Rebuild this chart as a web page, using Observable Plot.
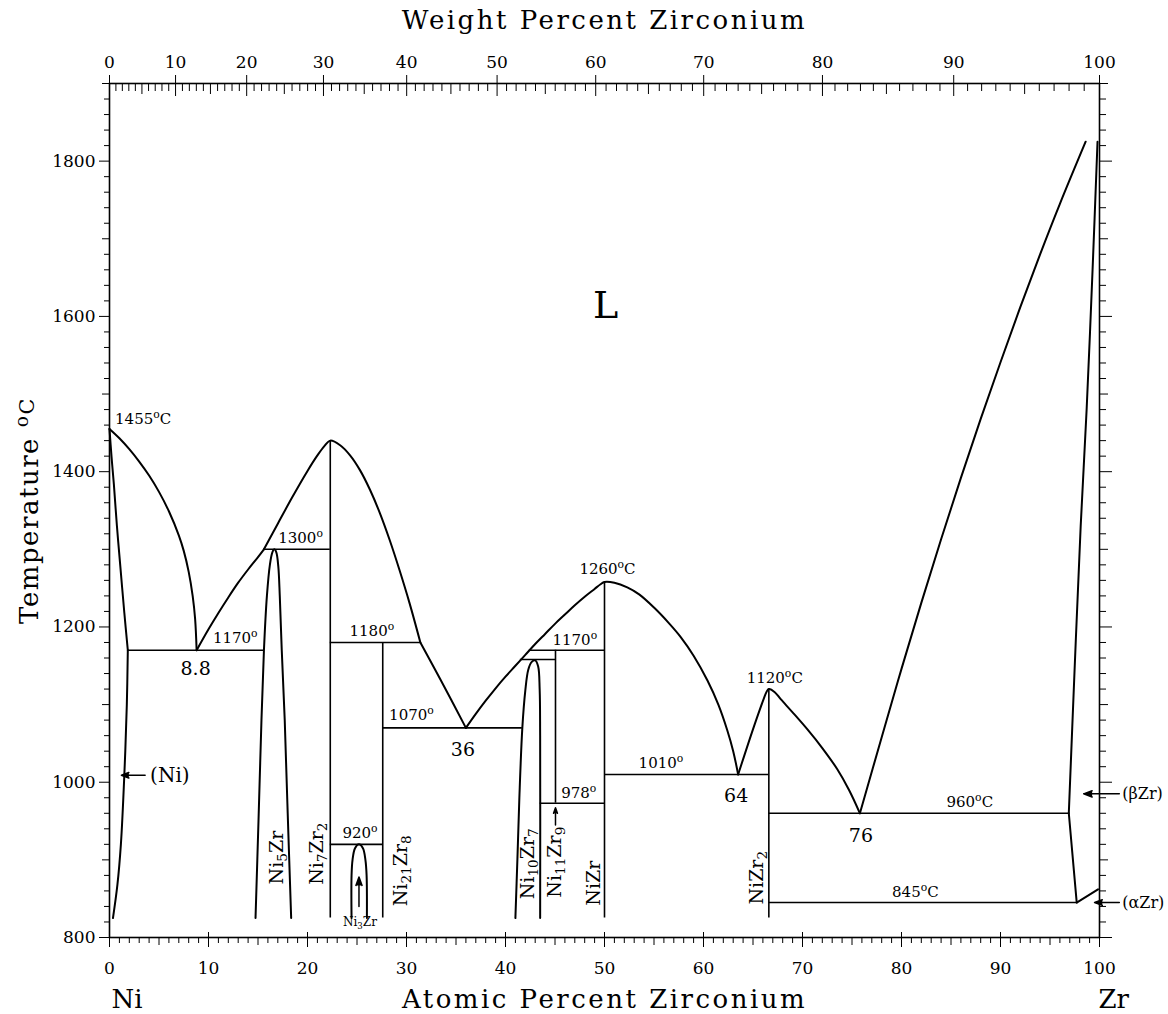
<!DOCTYPE html>
<html><head><meta charset="utf-8">
<script src="https://cdn.jsdelivr.net/npm/d3@7"></script>
<script src="https://cdn.jsdelivr.net/npm/@observablehq/plot@0.6"></script>
<style>
html,body{margin:0;padding:0;background:#fff;}
#chart{width:1168px;height:1014px;overflow:hidden;}
</style></head><body><div id="chart"></div>
<script>
// ---- Phase boundary curves: [atomic % Zr, temperature °C] ----
const niLiquidus    = [[0,1455],[1,1443],[2,1429],[3,1413],[4,1395],[5,1374],[6,1349],[7,1318],[7.5,1298],[8,1271],[8.4,1240],[8.65,1210],[8.8,1170]];
const niSolidus     = [[0,1455],[0.2,1420],[0.44,1384],[0.75,1330],[1.1,1277],[1.5,1218],[1.85,1170]];
const niSolvus      = [[1.85,1170],[1.75,1100],[1.5,1010],[1.15,920],[0.8,868],[0.35,825]];
const ni5ZrLiquidus = [[8.8,1170],[10,1197],[11,1218],[12,1238],[13,1257],[14,1274],[15,1290],[15.6,1300]];
const ni7Zr2Liquidus= [[15.6,1300],[17,1333],[18.5,1368],[20,1401],[21,1421],[21.7,1433],[22.3,1440],[23.3,1434],[24.3,1421],[25.3,1402],[26.3,1377],[27.3,1347],[28.3,1312],[29.3,1273],[30.3,1231],[31.4,1180]];
const ni21Zr8Liquidus=[[31.4,1180],[33.4,1133],[36,1070]];
const niZrLiquidus  = [[36,1070],[37,1088],[38,1105],[39,1121],[40,1136],[41,1150],[42,1164],[43,1178],[44,1191],[45,1204],[46,1216],[47,1228],[48,1239],[49,1249],[49.6,1255],[50,1258],[51,1257],[52.3,1251],[53.5,1242],[55,1225],[56.5,1205],[57.7,1187],[59,1163],[60.4,1131],[61.5,1100],[62.4,1067],[63,1040],[63.5,1010]];
const niZr2Liquidus = [[63.5,1010],[65.1,1072],[66.1,1108],[66.35,1116],[66.6,1120],[67.2,1116],[67.8,1107],[69,1090],[70.5,1068],[72,1044],[73.5,1017],[74.7,990],[75.8,960]];
const zrLiquidus    = [[75.8,960],[78,1058],[80,1146],[82,1231],[84,1313],[86,1392],[88,1468],[90,1541],[92,1612],[94,1680],[96,1745],[98.6,1825]];
const betaZrSolidus = [[96.9,960],[97.5,1150],[98.1,1330],[98.7,1480],[99.3,1660],[99.8,1825]];
const betaZrSolvus  = [[96.9,960],[97.7,845]];
const alphaZrSolvus = [[97.7,845],[99.85,862]];
const ni5ZrDome     = [[14.75,825],[15.05,950],[15.35,1080],[15.6,1170],[15.9,1240],[16.2,1280],[16.45,1296],[16.65,1300],[16.85,1296],[17.05,1278],[17.2,1240],[17.4,1170],[17.7,1080],[18.0,960],[18.35,825]];
const ni3ZrDome     = [[24.45,825],[24.45,880],[24.55,900],[24.8,915],[25.2,920],[25.6,915],[25.85,900],[25.97,880],[26.0,825]];
const ni10Zr7Dome   = [[41.0,825],[41.2,900],[41.4,980],[41.7,1070],[42.0,1118],[42.3,1145],[42.65,1155],[43.0,1157],[43.3,1149],[43.45,1120],[43.5,1060],[43.5,825]];

// ---- Invariant isotherms ----
const isoT  = [1170, 1300, 1180, 1070, 920, 1158, 1170, 973, 1010, 960, 845];
const isoX1 = [1.85, 15.6, 22.3, 27.6, 22.3, 41.5, 42.4, 43.5, 50, 66.6, 66.6];
const isoX2 = [15.6, 22.3, 31.4, 41.7, 27.6, 45.05, 50, 50, 66.6, 96.9, 97.7];

// ---- Line compounds ----
const compX      = [22.3, 27.6, 45.05, 50, 66.6];
const compTop    = [1440, 1180, 1170, 1258, 1120];
const compBottom = [825, 825, 973, 825, 825];

// ---- Temperature annotations ----
const tempText = ["1455^oC","1300^o","1170^o","1180^o","1070^o","920^o","1260^oC","1170^o","1010^o","978^o","1120^oC","960^oC","845^oC"];
const tempX    = [3.4, 19.3, 12.7, 26.5, 30.5, 25.3, 50.3, 47.0, 55.7, 47.4, 67.2, 86.9, 81.4];
const tempY    = [1468, 1314, 1185, 1195, 1086, 935, 1274, 1183, 1025, 986, 1134, 974, 858];

// ---- Eutectic compositions ----
const eutText = ["8.8","36","64","76"];
const eutX    = [8.7, 35.7, 63.3, 75.9];
const eutY    = [1146, 1041, 983, 931];

// ---- Phase names (vertical) ----
const phaseText = ["Ni_5Zr","Ni_7Zr_2","Ni_{21}Zr_8","Ni_{10}Zr_7","Ni_{11}Zr_9","NiZr","NiZr_2"];
const phaseX    = [16.9, 21.0, 29.4, 42.3, 45.0, 48.9, 65.4];
const phaseY    = [903, 908, 886, 895, 897, 870, 877];

// ---- Region labels ----
const regionText = ["(βZr)","(αZr)"];
const regionX    = [102.3, 102.3];
const regionY    = [985, 845];

// ---- Arrows ----
const arrX1 = [3.6, 25.2, 45.05, 102.0, 102.0];
const arrY1 = [1009, 840, 945, 985, 845];
const arrX2 = [1.2, 25.2, 45.05, 98.4, 99.5];
const arrY2 = [1009, 878, 967, 985, 845];

// ---- Axis ticks ----
const atMajor = d3.range(0, 101, 10);
const tMajor  = d3.range(800, 1801, 200);
const wtMajor = d3.range(0, 101, 10);

const MNi = 58.693, MZr = 91.224;
const wtToAt = w => 100 * (w / MZr) / (w / MZr + (100 - w) / MNi);
const atToWt = a => 100 * a * MZr / (a * MZr + (100 - a) * MNi);

const serif = "'DejaVu Serif', serif";
const curve = (data) => Plot.line(data, {x: d => d[0], y: d => d[1], stroke: "black", strokeWidth: 2, curve: "catmull-rom"});
const blank = () => "";

const iso = isoT.map((T, i) => ({T, x1: isoX1[i], x2: isoX2[i]}));
const comps = compX.map((x, i) => ({x, y1: compBottom[i], y2: compTop[i]}));
const temps = tempText.map((t, i) => ({t, x: tempX[i], y: tempY[i]}));
const euts = eutText.map((t, i) => ({t, x: eutX[i], y: eutY[i]}));
const phases = phaseText.map((t, i) => ({t, x: phaseX[i], y: phaseY[i]}));
const regions = regionText.map((t, i) => ({t, x: regionX[i], y: regionY[i]}));
const arrows = arrX1.map((x1, i) => ({x1, y1: arrY1[i], x2: arrX2[i], y2: arrY2[i]}));

const at1 = d3.range(0, 101).filter(d => d % 5);
const at5 = d3.range(5, 100, 10);
const wt1 = d3.range(0, 101).filter(d => d % 5).map(wtToAt);
const wt5 = d3.range(5, 100, 10).map(wtToAt);
const t20 = d3.range(800, 1901, 20).filter(d => d % 100);
const t100 = d3.range(900, 1901, 200);

const chart = Plot.plot({
  width: 1168, height: 1014,
  marginLeft: 109, marginRight: 69, marginTop: 83, marginBottom: 77,
  x: {domain: [0, 100]},
  y: {domain: [800, 1900]},
  style: {fontFamily: serif, background: "white", color: "black"},
  marks: [
    ...[niLiquidus, niSolidus, niSolvus, ni5ZrLiquidus, ni7Zr2Liquidus, ni21Zr8Liquidus,
        niZrLiquidus, niZr2Liquidus, zrLiquidus, betaZrSolidus, betaZrSolvus, alphaZrSolvus,
        ni5ZrDome, ni3ZrDome, ni10Zr7Dome].map(curve),
    Plot.ruleY(iso, {y: "T", x1: "x1", x2: "x2", stroke: "black", strokeWidth: 1.6}),
    Plot.ruleX(comps, {x: "x", y1: "y1", y2: "y2", stroke: "black", strokeWidth: 1.6}),
    Plot.arrow(arrows, {x1: "x1", y1: "y1", x2: "x2", y2: "y2", stroke: "black", fill: "black", strokeWidth: 1.5, headLength: 9, headAngle: 40}),
    // annotations
    Plot.text(temps, {x: "x", y: "y", text: "t", fontSize: 15}),
    Plot.text(euts, {x: "x", y: "y", text: "t", fontSize: 19}),
    Plot.text(phases, {x: "x", y: "y", text: "t", fontSize: 19, rotate: -90}),
    Plot.text([{t: "Ni_3Zr", x: 25.3, y: 820}], {x: "x", y: "y", text: "t", fontSize: 12}),
    Plot.text([{t: "L", x: 50.1, y: 1614}], {x: "x", y: "y", text: "t", fontSize: 38}),
    Plot.text([{t: "(Ni)", x: 4.1, y: 1009}], {x: "x", y: "y", text: "t", fontSize: 20, textAnchor: "start"}),
    Plot.text(regions, {x: "x", y: "y", text: "t", fontSize: 16, textAnchor: "start"}),
    // titles
    Plot.text(["Weight Percent Zirconium"], {text: d => d, frameAnchor: "top", dy: -63, lineAnchor: "middle", textAnchor: "middle", fontSize: 26}),
    Plot.text(["Atomic Percent Zirconium"], {text: d => d, frameAnchor: "bottom", dy: 62, lineAnchor: "middle", textAnchor: "middle", fontSize: 26}),
    Plot.text(["Ni"], {text: d => d, frameAnchor: "bottom-left", dy: 62, dx: 2, lineAnchor: "middle", textAnchor: "start", fontSize: 26}),
    Plot.text(["Zr"], {text: d => d, frameAnchor: "bottom-right", dy: 62, dx: -1, lineAnchor: "middle", textAnchor: "start", fontSize: 26}),
    Plot.text(["Temperature ^o~C"], {text: d => d, frameAnchor: "left", dx: -80, rotate: -90, lineAnchor: "middle", textAnchor: "middle", fontSize: 26}),
    // bottom axis
    Plot.axisX(at1, {anchor: "bottom", tickSize: 6, tickFormat: blank, label: null}),
    Plot.axisX(at5, {anchor: "bottom", tickSize: 8, tickFormat: blank, label: null}),
    Plot.axisX(atMajor, {anchor: "bottom", tickSize: -5, tickFormat: blank, label: null}),
    Plot.axisX(atMajor, {anchor: "bottom", tickSize: 10, tickPadding: 14, fontSize: 17, label: null, tickFormat: d => String(d)}),
    // top axis (weight percent)
    Plot.axisX(wt1, {anchor: "top", tickSize: -7, tickFormat: blank, label: null}),
    Plot.axisX(wt5, {anchor: "top", tickSize: -10, tickFormat: blank, label: null}),
    Plot.axisX(wtMajor.map(wtToAt), {anchor: "top", tickSize: -12, tickFormat: blank, label: null}),
    Plot.axisX(wtMajor.map(wtToAt), {anchor: "top", tickSize: 9, tickPadding: 7, fontSize: 17, label: null, tickFormat: d => String(Math.round(atToWt(d)))}),
    // left axis
    Plot.axisY(t20, {anchor: "left", tickSize: 5, tickFormat: blank, label: null}),
    Plot.axisY(t100, {anchor: "left", tickSize: 7, tickFormat: blank, label: null}),
    Plot.axisY(tMajor, {anchor: "left", tickSize: 10, tickPadding: 4, fontSize: 17, label: null, tickFormat: d => String(d)}),
    // right axis
    Plot.axisY(t20, {anchor: "right", tickSize: 6, tickFormat: blank, label: null}),
    Plot.axisY(t100, {anchor: "right", tickSize: 8, tickFormat: blank, label: null}),
    Plot.axisY(tMajor, {anchor: "right", tickSize: 12, tickFormat: blank, label: null}),
    Plot.frame({stroke: "black", strokeWidth: 1.6})
  ]
});

document.getElementById("chart").appendChild(chart);

// rich text: ^ superscript, _ subscript, ~ small raised
const NS = "http://www.w3.org/2000/svg";
chart.querySelectorAll("text").forEach(t => {
  const s = t.textContent;
  if (/Percent Zirconium/.test(s)) t.setAttribute("letter-spacing", "2.5");
  if (/Temperature/.test(s)) t.setAttribute("letter-spacing", "1.5");
  if (!/[\^_~]/.test(s)) return;
  const parts = []; let buf = ""; let i = 0;
  while (i < s.length) {
    const c = s[i];
    if (c === "^" || c === "_" || c === "~") {
      if (buf) { parts.push({t: buf, m: 0}); buf = ""; }
      let content;
      if (s[i + 1] === "{") { const j = s.indexOf("}", i); content = s.slice(i + 2, j); i = j + 1; }
      else { content = s[i + 1]; i += 2; }
      parts.push({t: content, m: c});
    } else { buf += c; i++; }
  }
  if (buf) parts.push({t: buf, m: 0});
  t.textContent = "";
  parts.forEach(p => {
    const ts = document.createElementNS(NS, "tspan");
    ts.textContent = p.t;
    if (p.m === "^") { ts.setAttribute("font-size", "72%"); ts.setAttribute("baseline-shift", "55%"); }
    else if (p.m === "_") { ts.setAttribute("font-size", "72%"); ts.setAttribute("baseline-shift", "-30%"); }
    else if (p.m === "~") { ts.setAttribute("font-size", "80%"); ts.setAttribute("baseline-shift", "20%"); }
    t.appendChild(ts);
  });
});
</script></body></html>
